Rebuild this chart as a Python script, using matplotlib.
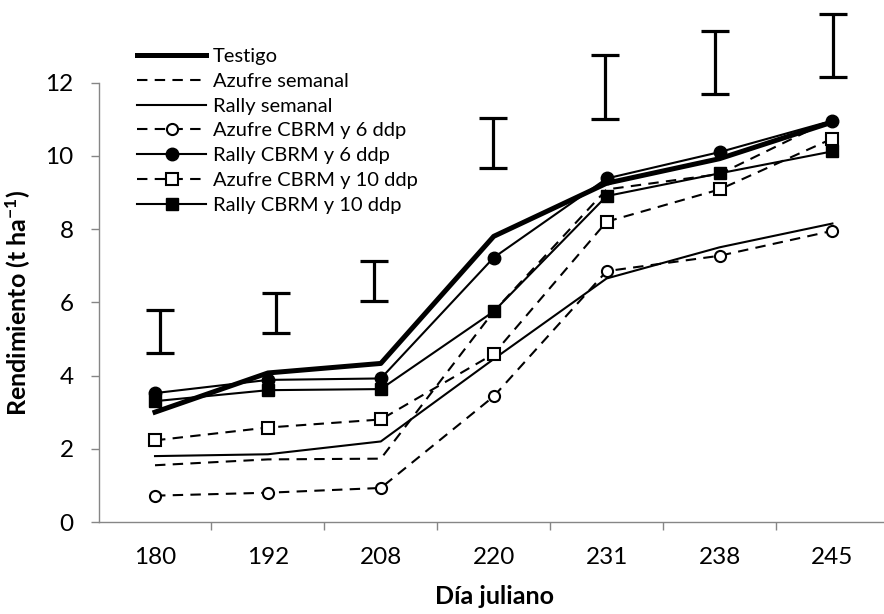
import numpy as np
from matplotlib import pyplot as plt
from matplotlib.ticker import FixedLocator

plt.rcParams['font.family'] = ['Lato', 'DejaVu Sans']
plt.rcParams['mathtext.fontset'] = 'custom'
plt.rcParams['mathtext.rm'] = 'Lato'
plt.rcParams['mathtext.bf'] = 'Lato:bold'
plt.rcParams['mathtext.default'] = 'bf'

# Julian days (categorical axis)
days = ['180', '192', '208', '220', '231', '238', '245']

# yield per treatment (t/ha)
testigo = [3.0, 4.07, 4.33, 7.8, 9.25, 9.92, 10.92]
azufre_semanal = [1.55, 1.71, 1.73, 5.75, 9.08, 9.5, 11.0]
rally_semanal = [1.8, 1.85, 2.2, 4.45, 6.65, 7.5, 8.15]
azufre_6ddp = [0.72, 0.8, 0.93, 3.43, 6.85, 7.27, 7.95]
rally_6ddp = [3.52, 3.88, 3.92, 7.22, 9.38, 10.1, 10.96]
azufre_10ddp = [2.23, 2.58, 2.8, 4.59, 8.2, 9.08, 10.47]
rally_10ddp = [3.3, 3.6, 3.63, 5.75, 8.9, 9.52, 10.12]

# LSD bars drawn above the curves (low / high ends)
lsd_low = [4.61, 5.16, 6.03, 9.67, 11.01, 11.68, 12.14]
lsd_high = [5.79, 6.25, 7.13, 11.02, 12.75, 13.41, 13.87]
lsd_shift = [0.044, 0.068, -0.059, -0.006, -0.018, -0.038, 0.003]

fig = plt.figure(figsize=(8.84, 6.14), dpi=100)
ax = fig.add_axes([0.1115, 0.1498, 0.894, 0.7158])

x = np.arange(len(days))

# LSD bars
lo = np.array(lsd_low)
hi = np.array(lsd_high)
eb = ax.errorbar(x + np.array(lsd_shift), (lo + hi) / 2, yerr=(hi - lo) / 2,
                 fmt='none', ecolor='black', elinewidth=2.3, capsize=10,
                 capthick=2.3)
for art in eb.lines[1] + eb.lines[2]:
    art.set_clip_on(False)

dash = (0, (5, 3.5))
lw = 1.5
ax.plot(x, testigo, color='black', lw=3.6, label='Testigo')
ax.plot(x, azufre_semanal, color='black', lw=lw, ls=dash, label='Azufre semanal')
ax.plot(x, rally_semanal, color='black', lw=lw, label='Rally semanal')
ax.plot(x, azufre_6ddp, color='black', lw=lw, ls=dash, marker='o', ms=8,
        mfc='white', mec='black', mew=1.5, label='Azufre CBRM y 6 ddp')
ax.plot(x, rally_6ddp, color='black', lw=lw, marker='o', ms=9,
        mfc='black', mec='black', label='Rally CBRM y 6 ddp')
ax.plot(x, azufre_10ddp, color='black', lw=lw, ls=dash, marker='s', ms=8,
        mfc='white', mec='black', mew=1.5, label='Azufre CBRM y 10 ddp')
ax.plot(x, rally_10ddp, color='black', lw=lw, marker='s', ms=8.5,
        mfc='black', mec='black', label='Rally CBRM y 10 ddp')

# axes look
ax.set_xlim(-0.5, len(days) - 0.5)
ax.set_ylim(0, 12)
ax.set_yticks(range(0, 13, 2))
ax.set_xticks(x)
ax.set_xticklabels(days)
ax.xaxis.set_minor_locator(FixedLocator(x[:-1] + 0.5))
ax.tick_params(axis='x', which='major', length=0, pad=18, labelsize=17.5)
ax.tick_params(axis='x', which='minor', length=6, width=1, color='#868686',
               direction='out')
ax.tick_params(axis='y', length=6, width=1, color='#868686', direction='out',
               pad=12, labelsize=17.5)
for s in ['top', 'right']:
    ax.spines[s].set_visible(False)
for s in ['left', 'bottom']:
    ax.spines[s].set_color('#868686')
    ax.spines[s].set_linewidth(1)

ax.set_xlabel('Día juliano', fontsize=18, fontweight='bold')
ax.xaxis.set_label_coords(0.501, -0.143)
ax.set_ylabel(r'Rendimiento (t ha$^{-1}$)', fontsize=18, fontweight='bold')
ax.yaxis.set_label_coords(-0.083, 0.498)

ax.legend(loc='upper left', bbox_to_anchor=(137 / 884, 1 - 48 / 614),
          bbox_transform=fig.transFigure, frameon=False, fontsize=14.5,
          handlelength=3.45, handletextpad=0.33, labelspacing=0.38,
          borderpad=0, borderaxespad=0, numpoints=1)

fig.savefig('out.png', dpi=100)
